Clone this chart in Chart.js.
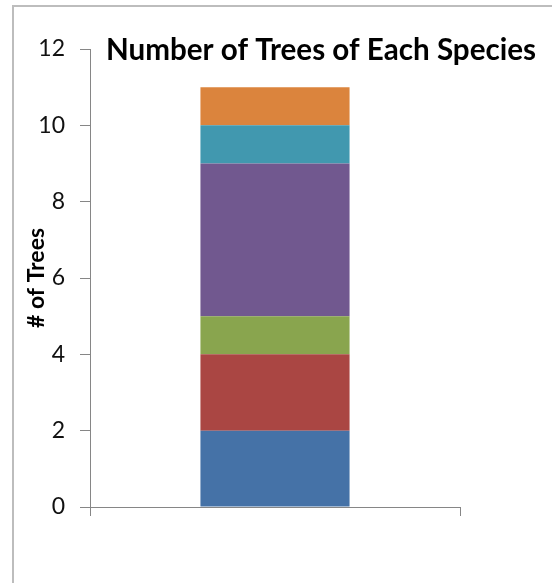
<!DOCTYPE html>
<html>
<head>
<meta charset="utf-8">
<script src="https://cdn.jsdelivr.net/npm/chart.js@4/dist/chart.umd.min.js"></script>
<style>
  html, body { margin: 0; padding: 0; background: #fff; }
  #wrap { position: relative; width: 552px; height: 583px; }
  #frame { position: absolute; left: 12px; top: 5px; right: 0; bottom: 0; border-left: 2px solid #bdbdbd; border-top: 2px solid #bdbdbd; }
  canvas { position: absolute; left: 0; top: 0; }
</style>
</head>
<body>
<div id="wrap">
  <div id="frame"></div>
  <canvas id="treeChart" width="552" height="583"></canvas>
</div>
<script>
const categories = ["Trees"];
const species = ["Species 1", "Species 2", "Species 3", "Species 4", "Species 5", "Species 6"];
const counts = [2, 2, 1, 4, 1, 1];
const colors = ["#4572a7", "#aa4643", "#89a54e", "#71588f", "#4198af", "#db843d"];
const yTicks = [0, 2, 4, 6, 8, 10, 12];

const titleText = "Number of Trees of Each Species";

// title sits inside the plot area, so it is drawn by hand
const titlePlugin = {
  id: "insideTitle",
  afterDraw(chart) {
    const ctx = chart.ctx;
    ctx.save();
    ctx.font = "bold 29.6px Lato";
    ctx.fillStyle = "#000";
    ctx.textAlign = "center";
    ctx.textBaseline = "alphabetic";
    ctx.fillText(titleText, 321, 60);
    ctx.restore();
  },
};

const ctx = document.getElementById("treeChart").getContext("2d");
const treeChart = new Chart(ctx, {
  type: "bar",
  data: {
    labels: categories,
    datasets: species.map((name, i) => ({
      label: name,
      data: [counts[i]],
      backgroundColor: colors[i],
      borderWidth: 0,
      categoryPercentage: 1,
      barPercentage: 0.403,
    })),
  },
  options: {
    responsive: false,
    animation: false,
    layout: {
      padding: { left: 12, right: 92, top: 49, bottom: 66 },
    },
    scales: {
      x: {
        stacked: true,
        ticks: { display: false },
        grid: {
          display: true,
          offset: true,
          drawOnChartArea: false,
          drawTicks: true,
          tickLength: 9,
          color: "#868686",
        },
        border: { display: true, color: "#868686", width: 1 },
        afterFit(scale) {
          scale.height = 10;
        },
      },
      y: {
        stacked: true,
        min: 0,
        max: 12,
        afterBuildTicks(scale) {
          scale.ticks = yTicks.map((v) => ({ value: v }));
        },
        ticks: {
          color: "#111",
          padding: 15,
          font: { family: "Lato", size: 23 },
        },
        grid: {
          display: true,
          drawOnChartArea: false,
          drawTicks: true,
          tickLength: 10,
          color: "#868686",
        },
        border: { display: true, color: "#868686", width: 1 },
        title: {
          display: true,
          text: "# of Trees",
          color: "#000",
          font: { family: "Lato", size: 23, weight: "bold" },
          padding: { top: 11, bottom: 0 },
        },
        afterFit(scale) {
          scale.width = 78;
        },
      },
    },
    plugins: {
      legend: { display: false },
      title: { display: false },
      tooltip: { enabled: false },
    },
  },
  plugins: [titlePlugin],
});
</script>
</body>
</html>
